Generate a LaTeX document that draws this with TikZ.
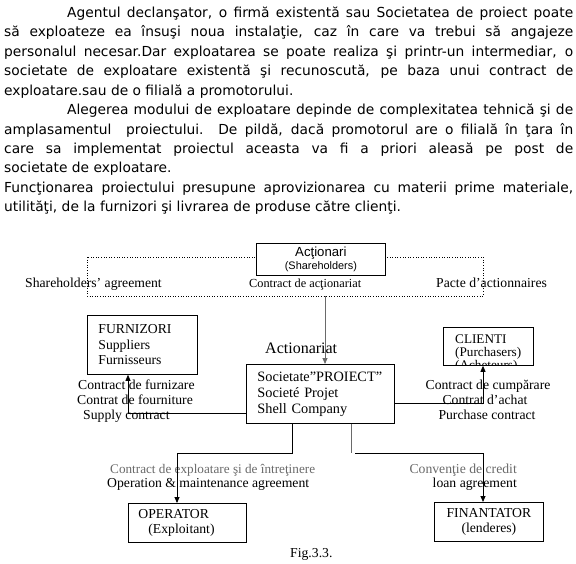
\documentclass[tikz,border=0pt]{standalone}
\usepackage{fontspec}
\setmainfont{Liberation Serif}
\setsansfont{Liberation Sans}
\newfontfamily\bodyfont{DejaVu Sans}
\usetikzlibrary{arrows.meta}
\definecolor{scangray}{HTML}{6A6A6A}

\begin{document}
\begin{tikzpicture}[
    x=1pt, y=-1pt,
    every node/.style={inner sep=0pt},
    para/.style={font=\bodyfont\fontsize{13.8}{19.45}\selectfont,
                 text width=569pt, align=justify, anchor=base west},
    box/.style={draw, fill=white, line width=0.8pt, anchor=north west,
                align=left, font=\fontsize{13.7}{15.5}\selectfont},
    lbl/.style={font=\fontsize{13.7}{15}\selectfont, anchor=base},
    conn/.style={draw, line width=0.8pt, ->, >={Triangle[length=6pt,width=5pt]}},
]
\useasboundingbox (0,0) rectangle (576,563);

% Text
\node[para] (intro) at (4,17.3) {%
\hspace*{63pt}Agentul declanşator, o firmă existentă sau Societatea de proiect poate\linebreak
să exploateze ea însuşi noua instalaţie, caz în care va trebui să angajeze\linebreak
personalul necesar.Dar exploatarea se poate realiza şi printr-un intermediar, o\linebreak
societate de exploatare existentă şi recunoscută, pe baza unui contract de\linebreak
exploatare.sau de o filială a promotorului.\par
\hspace*{63pt}Alegerea modului de exploatare depinde de complexitatea tehnică şi de\linebreak
amplasamentul\ \ proiectului. De pildă, dacă promotorul are o filială în ţara în\linebreak
care sa implementat proiectul aceasta va fi a priori aleasă pe post de\linebreak
societate de exploatare.\par
Funcţionarea proiectului presupune aprovizionarea cu materii prime materiale,\linebreak
utilităţi, de la furnizori şi livrarea de produse către clienţi.};

% Actionari
\coordinate (pactnw) at (87,257);
\coordinate (pactse) at (483,296);
\coordinate (pactdrop) at (325,296);
\draw[dotted, line width=0.6pt] (pactnw) rectangle (pactse);
\node[box, align=center, text width=129pt, minimum height=32pt,
      font=\sffamily\fontsize{13.2}{13}\selectfont] (actionari) at (256,243)
    {Acţionari\\{\fontsize{10.9}{12}\selectfont(Shareholders)}};
\node[lbl, anchor=base west] (shagr) at (25,287) {Shareholders’ agreement};
\node[lbl, anchor=base west, font=\fontsize{12.3}{14}\selectfont] (ctact) at (249,287) {Contract de acţionariat};
\node[lbl, anchor=base west] (pacte) at (436,287) {Pacte d’actionnaires};

% Boxes
\node[box, text width=88pt, inner xsep=11pt, minimum height=59pt] (furn) at (87,315)
    {FURNIZORI\\Suppliers\\Furnisseurs};
\node[box, font=\fontsize{14.3}{16}\selectfont, text width=126pt, inner xsep=11pt,
      minimum height=59pt] (soc) at (246,364)
    {Societate”PROIECT”\\Societé Projet\\Shell Company};
\node[box, minimum width=90pt, minimum height=38pt] (clienti) at (443,327) {};
\begin{scope}
  \clip (clienti.south west) rectangle (clienti.north east);
  \node[align=left, text width=80pt, anchor=base west,
        font=\fontsize{13.2}{13}\selectfont] (clientitext) at (455,343)
      {CLIENTI\\(Purchasers)\\(Acheteurs)};
\end{scope}
\node[box, text width=98pt, inner xsep=10pt, minimum height=39pt] (op) at (128,503)
    {OPERATOR\\\hspace*{10pt}(Exploitant)};
\node[box, align=center, text width=109pt, minimum height=39pt,
      font=\fontsize{13.7}{14.5}\selectfont] (fin) at (434,502)
    {FINANTATOR\\(lenderes)};

% Labels
\node[anchor=base west, font=\fontsize{16}{18}\selectfont] (actlbl) at (265,353) {Actionariat};
\node[lbl, anchor=base west] (sup1) at (78,389) {Contract de furnizare};
\node[lbl, anchor=base west] (sup2) at (77,404) {Contrat de fourniture};
\node[lbl, anchor=base west] (sup3) at (83,419) {Supply contract};
\node[lbl] (pur1) at (488,389) {Contract de cumpărare};
\node[lbl] (pur2) at (485,404) {Contrat d’achat};
\node[lbl] (pur3) at (487,419) {Purchase contract};
\node[lbl, anchor=base west, text=scangray, font=\fontsize{13.2}{15}\selectfont] (opl1) at (110,473)
    {Contract de exploatare şi de întreţinere};
\node[lbl, anchor=base west] (opl2) at (107,487) {Operation \& maintenance agreement};
\node[lbl, anchor=base east, text=scangray] (finl1) at (517,473) {Convenţie de credit};
\node[lbl, anchor=base east] (finl2) at (517,487) {loan agreement};
\node[lbl, anchor=base west] (fig) at (290,557) {Fig.3.3.};

% Connectors
\coordinate (supbend) at (128,413);
\coordinate (purbend) at (483,403);
\coordinate (opbend) at (177,453);
\coordinate (finbend) at (483,453);
\draw[conn, scangray] (pactdrop) -- (pactdrop |- soc.north);
\draw[conn] (soc.west |- supbend) -- (supbend) -- (supbend |- furn.south);
\draw[conn] (soc.east |- purbend) -- (purbend) -- (purbend |- clienti.south);
\draw[conn] ([xshift=-28pt]soc.south) |- (opbend) -- (opbend |- op.north);
\draw[scangray, line width=0.8pt] ([xshift=31pt]soc.south) -- ([xshift=31pt]soc.south |- finbend);
\draw[conn] ([xshift=35pt]soc.south |- finbend) -- (finbend) -- (finbend |- fin.north);

\end{tikzpicture}
\end{document}
